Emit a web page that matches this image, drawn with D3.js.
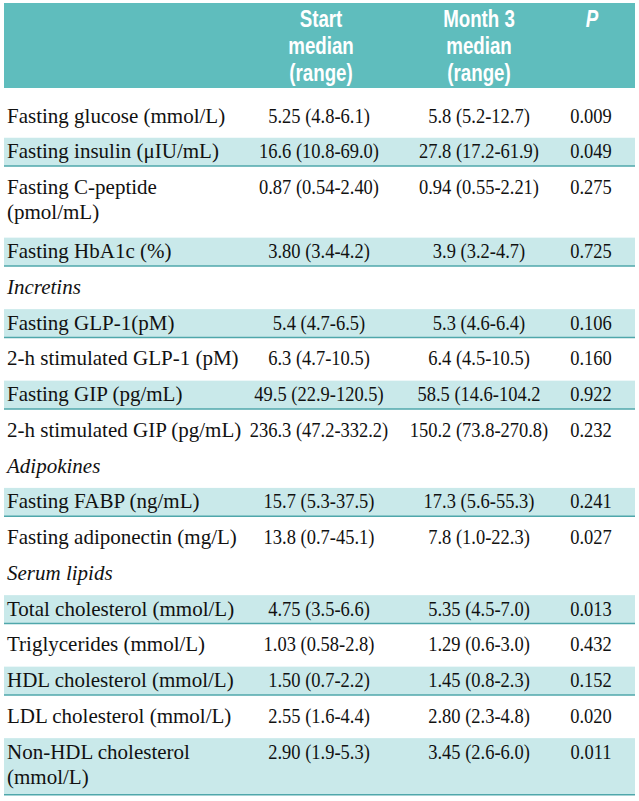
<!DOCTYPE html>
<html>
<head>
<meta charset="utf-8">
<script src="https://cdn.jsdelivr.net/npm/d3@7"></script>
<style>
  html, body { margin: 0; padding: 0; background: #ffffff; }
  svg { display: block; }
</style>
</head>
<body>
<svg id="chart" width="639" height="801"></svg>
<script>
// ---- data ----
const rowLabels = [
  "Fasting glucose (mmol/L)",
  "Fasting insulin (μIU/mL)",
  "Fasting C-peptide|(pmol/mL)",
  "Fasting HbA1c (%)",
  "Incretins",
  "Fasting GLP-1(pM)",
  "2-h stimulated GLP-1 (pM)",
  "Fasting GIP (pg/mL)",
  "2-h stimulated GIP (pg/mL)",
  "Adipokines",
  "Fasting FABP (ng/mL)",
  "Fasting adiponectin (mg/L)",
  "Serum lipids",
  "Total cholesterol (mmol/L)",
  "Triglycerides (mmol/L)",
  "HDL cholesterol (mmol/L)",
  "LDL cholesterol (mmol/L)",
  "Non-HDL cholesterol|(mmol/L)"
];
const startValues = [
  "5.25 (4.8-6.1)", "16.6 (10.8-69.0)", "0.87 (0.54-2.40)", "3.80 (3.4-4.2)", null,
  "5.4 (4.7-6.5)", "6.3 (4.7-10.5)", "49.5 (22.9-120.5)", "236.3 (47.2-332.2)", null,
  "15.7 (5.3-37.5)", "13.8 (0.7-45.1)", null,
  "4.75 (3.5-6.6)", "1.03 (0.58-2.8)", "1.50 (0.7-2.2)", "2.55 (1.6-4.4)", "2.90 (1.9-5.3)"
];
const month3Values = [
  "5.8 (5.2-12.7)", "27.8 (17.2-61.9)", "0.94 (0.55-2.21)", "3.9 (3.2-4.7)", null,
  "5.3 (4.6-6.4)", "6.4 (4.5-10.5)", "58.5 (14.6-104.2", "150.2 (73.8-270.8)", null,
  "17.3 (5.6-55.3)", "7.8 (1.0-22.3)", null,
  "5.35 (4.5-7.0)", "1.29 (0.6-3.0)", "1.45 (0.8-2.3)", "2.80 (2.3-4.8)", "3.45 (2.6-6.0)"
];
const pValues = [
  "0.009", "0.049", "0.275", "0.725", null,
  "0.106", "0.160", "0.922", "0.232", null,
  "0.241", "0.027", null,
  "0.013", "0.432", "0.152", "0.020", "0.011"
];
const sectionRows = ["Incretins", "Adipokines", "Serum lipids"];
const shadedRows = [0,1,0,1,0,1,0,1,0,0,1,0,0,1,0,1,0,1];
const columns = ["label", "start", "month3", "p"];
const headerLines = {
  start: ["Start", "median", "(range)"],
  month3: ["Month 3", "median", "(range)"],
  p: ["P"]
};

// ---- layout ----
const tableLeft = 4, tableRight = 635;
const headerTop = 3, headerBottom = 88;
const bodyTop = 102;
const pitch = 35.75, extraLine = 28.4, bandH = 28.3;
const textLineGap = 25;

const colors = {
  header: "#5fbdbd",
  band: "#c9e9ea",
  rule: "#4fa7ab",
  text: "#111111"
};

const svg = d3.select("#chart");

const xCol = d3.scaleOrdinal().domain(columns).range([7, 319, 479, 591]);
const xHead = d3.scaleOrdinal().domain(columns).range([7, 321, 479, 592]);

const rows = rowLabels.map((lab, i) => ({
  lines: lab.split("|"),
  start: startValues[i],
  month3: month3Values[i],
  p: pValues[i],
  section: sectionRows.includes(lab),
  shaded: !!shadedRows[i]
}));
rows.forEach(r => { r.h = pitch + (r.lines.length - 1) * extraLine; });
const tops = d3.cumsum([0, ...rows.map(r => r.h)]).map(v => v + bodyTop);
rows.forEach((r, i) => { r.top = tops[i]; });

// header band
svg.append("rect")
  .attr("x", tableLeft).attr("y", headerTop)
  .attr("width", tableRight - tableLeft).attr("height", headerBottom - headerTop)
  .attr("fill", colors.header);

const headG = svg.append("g");
["start", "month3", "p"].forEach(c => {
  headG.append("text")
    .attr("transform", `translate(${xHead(c)},0) scale(0.78,1)`)
    .attr("text-anchor", "middle")
    .attr("font-family", "'Liberation Sans Narrow', 'Arial Narrow', sans-serif")
    .attr("font-weight", "bold")
    .attr("font-style", c === "p" ? "italic" : "normal")
    .attr("font-size", 24)
    .attr("fill", "#ffffff")
    .selectAll("tspan")
    .data(headerLines[c])
    .join("tspan")
    .attr("x", 0)
    .attr("y", (d, i) => 27 + i * 27)
    .text(d => d);
});

// bands and rules
const rowG = svg.append("g").selectAll("g").data(rows).join("g");

rowG.filter(d => d.shaded).append("rect")
  .attr("x", tableLeft)
  .attr("y", d => d.top)
  .attr("width", tableRight - tableLeft)
  .attr("height", d => bandH + (d.lines.length - 1) * extraLine)
  .attr("fill", colors.band);

rowG.filter(d => d.shaded).append("line")
  .attr("x1", tableLeft).attr("x2", tableRight)
  .attr("y1", d => d.top + bandH + (d.lines.length - 1) * extraLine)
  .attr("y2", d => d.top + bandH + (d.lines.length - 1) * extraLine)
  .attr("stroke", colors.rule)
  .attr("stroke-width", 1.5);

const fontBody = "'Liberation Serif', 'Times New Roman', serif";

// labels
rowG.append("text")
  .attr("font-family", fontBody)
  .attr("font-size", 21)
  .attr("font-style", d => d.section ? "italic" : "normal")
  .attr("fill", colors.text)
  .selectAll("tspan")
  .data(d => d.lines.map((l, i) => ({ l, i, top: d.top })))
  .join("tspan")
  .attr("x", xCol("label"))
  .attr("y", d => d.top + 20.5 + d.i * textLineGap)
  .text(d => d.l);

// value columns
["start", "month3", "p"].forEach(c => {
  rowG.filter(d => d[c] != null).append("text")
    .attr("transform", d => `translate(${xCol(c)},${d.top + 20.5}) scale(0.88,1)`)
    .attr("text-anchor", "middle")
    .attr("font-family", fontBody)
    .attr("font-size", 21)
    .attr("fill", colors.text)
    .text(d => d[c]);
});
</script>
</body>
</html>
